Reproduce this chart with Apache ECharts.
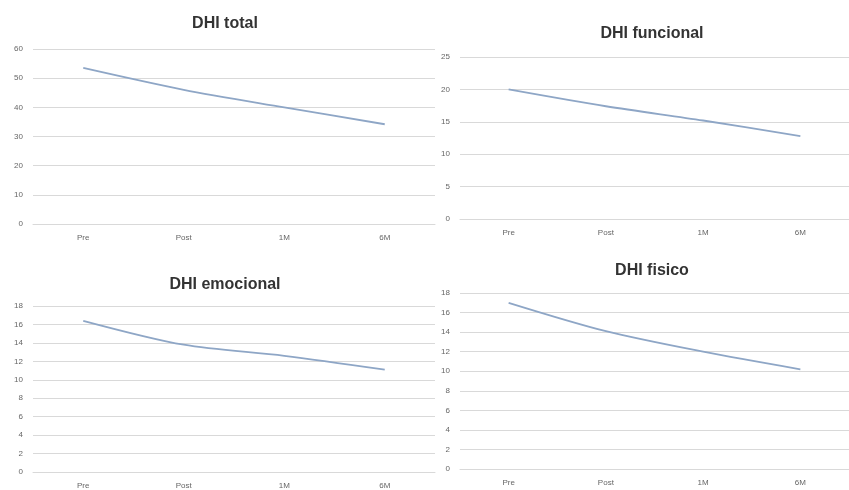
<!DOCTYPE html>
<html><head><meta charset="utf-8">
<script src="https://cdn.jsdelivr.net/npm/echarts@6/dist/echarts.min.js"></script>
<style>html,body{margin:0;padding:0;background:#fff}#c{width:849px;height:490px}</style>
</head><body><div id="c"></div>
<script>
const categories = ['Pre', 'Post', '1M', '6M'];
const totalValues = [53.5, 46, 40, 34.2];
const funcionalValues = [20, 17.4, 15.2, 12.8];
const emocionalValues = [16.4, 13.8, 12.6, 11.1];
const fisicoValues = [17, 14.1, 12, 10.2];
const titles = ['DHI total', 'DHI funcional', 'DHI emocional', 'DHI fisico'];

const panels = [
  {data: totalValues, max: 60, interval: 10, grid: {left: 33, top: 49, width: 402, height: 175}, title: [225, 16]},
  {data: funcionalValues, max: 25, interval: 5, grid: {left: 460, top: 57, width: 400, height: 162}, title: [652, 26]},
  {data: emocionalValues, max: 18, interval: 2, grid: {left: 33, top: 306, width: 402, height: 166}, title: [225, 277]},
  {data: fisicoValues, max: 18, interval: 2, grid: {left: 460, top: 293, width: 400, height: 176}, title: [652, 263]}
];

const lblFont = {fontFamily: 'Liberation Sans', fontSize: 8, color: '#666'};
const option = {
  animation: false,
  backgroundColor: '#fff',
  title: panels.map((p, i) => ({
    text: titles[i], left: p.title[0], top: p.title[1], textAlign: 'center', padding: 0,
    textStyle: {fontFamily: 'Liberation Sans', fontWeight: 'bold', fontSize: 16, color: '#333'}
  })),
  grid: panels.map(p => p.grid),
  xAxis: panels.map((p, i) => ({
    type: 'category', gridIndex: i, data: categories, boundaryGap: true,
    axisLine: {show: true, lineStyle: {color: '#d9d9d9'}},
    axisTick: {show: false},
    axisLabel: Object.assign({margin: 10}, lblFont)
  })),
  yAxis: panels.map((p, i) => ({
    type: 'value', gridIndex: i, min: 0, max: p.max, interval: p.interval,
    axisLine: {show: false}, axisTick: {show: false},
    splitLine: {lineStyle: {color: '#d9d9d9', width: 1}},
    axisLabel: Object.assign({margin: 10}, lblFont)
  })),
  series: panels.map((p, i) => ({
    type: 'line', xAxisIndex: i, yAxisIndex: i, data: p.data,
    showSymbol: false, smooth: 0.3,
    lineStyle: {color: '#8ea6c6', width: 1.8}
  }))
};
echarts.init(document.getElementById('c'), null, {renderer: 'canvas'}).setOption(option);
</script></body></html>
